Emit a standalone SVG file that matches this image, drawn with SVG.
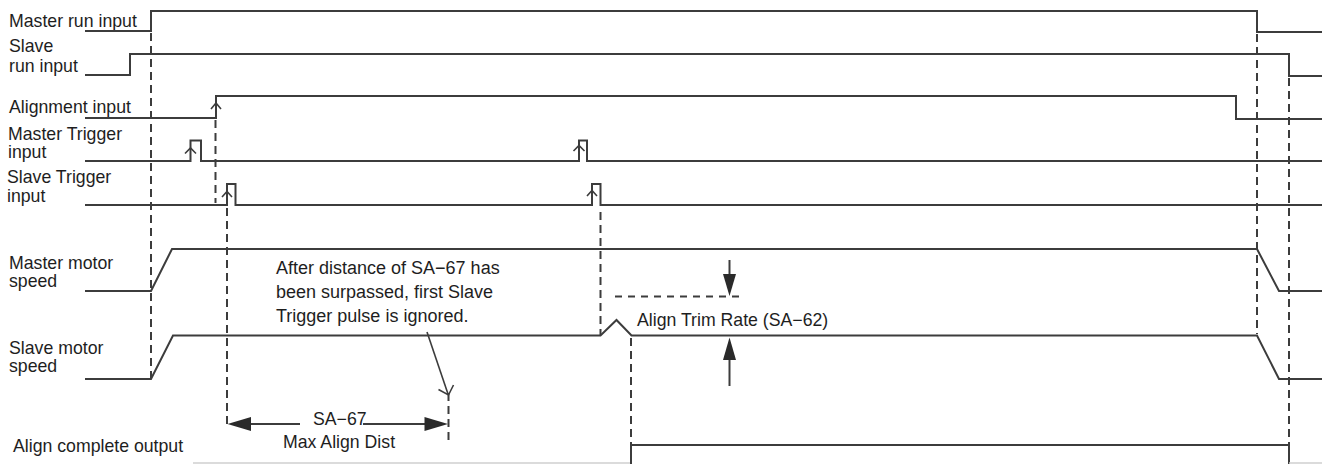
<svg xmlns="http://www.w3.org/2000/svg" width="1330" height="464" viewBox="0 0 1330 464">
<defs>
<style>
.sig{fill:none;stroke:#3c3c3c;stroke-width:2;stroke-linejoin:miter}
.faint{fill:none;stroke:#cfcfcf;stroke-width:1.5}
.dash{fill:none;stroke:#3c3c3c;stroke-width:2;stroke-dasharray:8 5}
.chev{fill:none;stroke:#3c3c3c;stroke-width:1.6}
.lbl{font-family:"Liberation Sans",Arial,sans-serif;font-size:17.7px;fill:#1e1e1e}
.head{fill:#2a2a2a;stroke:none}
</style>
</defs>
<rect width="1330" height="464" fill="#ffffff"/>

<g id="master-run">
<text class="lbl" x="9" y="27">Master run input</text>
<polyline class="sig" points="85,31 151,31 151,11 1257,11 1257,32 1322,32"/>
</g>

<g id="slave-run">
<text class="lbl" x="9" y="52">Slave</text>
<text class="lbl" x="9" y="72">run input</text>
<polyline class="sig" points="85,75 130,75 130,54 1289,54 1289,76 1322,76"/>
</g>

<g id="alignment">
<text class="lbl" x="9" y="113">Alignment input</text>
<polyline class="sig" points="85,118 216,118 216,96 1236,96 1236,119 1322,119"/>
<polyline class="chev" points="211,109 216,103 221,109"/>
</g>

<g id="master-trigger">
<text class="lbl" x="8" y="140">Master Trigger</text>
<text class="lbl" x="8" y="158">input</text>
<polyline class="sig" points="85,161 190.5,161 190.5,140.5 201,140.5 201,161 579,161 579,140.5 587,140.5 587,161 1322,161"/>
<polyline class="chev" points="185,153.5 190.5,148 196,153.5"/>
<polyline class="chev" points="573.5,151 579,145.5 584.5,151"/>
</g>

<g id="slave-trigger">
<text class="lbl" x="7" y="183">Slave Trigger</text>
<text class="lbl" x="7" y="202">input</text>
<polyline class="sig" points="85,205 227,205 227,184 235.5,184 235.5,205 592,205 592,184 600.5,184 600.5,205 1322,205"/>
<polyline class="chev" points="222,197 227,191.5 232,197"/>
<polyline class="chev" points="587,196 592,190.5 597,196"/>
</g>

<g id="master-motor">
<text class="lbl" x="9" y="269">Master motor</text>
<text class="lbl" x="9" y="287">speed</text>
<polyline class="sig" points="85,291 151,291 172,249 1257,249 1279,291 1322,291"/>
</g>

<g id="slave-motor">
<text class="lbl" x="9" y="354">Slave motor</text>
<text class="lbl" x="9" y="372">speed</text>
<polyline class="sig" points="85,379 151,379 173,335.5 600.5,335.5 616.5,320 631.5,335.5 1257,335.5 1279,379 1322,379"/>
</g>

<g id="align-complete">
<text class="lbl" x="13" y="452">Align complete output</text>
<line class="faint" x1="193" y1="463" x2="631" y2="463"/>
<polyline class="sig" points="631,464 631,445 1289,445 1289,464"/>
<line class="faint" x1="1289" y1="463" x2="1322" y2="463"/>
</g>

<g id="connectors">
<line class="dash" x1="151" y1="33" x2="151" y2="378"/>
<line class="dash" x1="215.5" y1="120" x2="215.5" y2="203"/>
<line class="dash" x1="227" y1="208" x2="227" y2="428"/>
<line class="dash" x1="448.5" y1="393" x2="448.5" y2="440"/>
<line class="dash" x1="600.5" y1="212" x2="600.5" y2="335"/>
<line class="dash" x1="631" y1="338" x2="631" y2="445"/>
<line class="dash" x1="1257" y1="34" x2="1257" y2="334"/>
<line class="dash" x1="1289" y1="78" x2="1289" y2="444"/>

<!-- Max align distance -->
<line class="sig" x1="248" y1="424" x2="300" y2="424"/>
<line class="sig" x1="363" y1="424" x2="427" y2="424"/>
<polygon class="head" points="227.5,424 251,417 251,431"/>
<polygon class="head" points="448,424 424.5,417 424.5,431"/>

<!-- annotation arrow -->
<line class="sig" x1="427" y1="332" x2="448" y2="394" style="stroke-width:1.6"/>
<polyline class="chev" points="438.5,389.5 448.5,395 453.5,385" />

<!-- trim rate -->
<line class="dash" x1="615" y1="296.5" x2="745" y2="296.5" style="stroke-dasharray:7 6"/>
<line class="sig" x1="729.5" y1="260" x2="729.5" y2="278"/>
<polygon class="head" points="729.5,296 723,274 736,274"/>
<line class="sig" x1="729.5" y1="356" x2="729.5" y2="386"/>
<polygon class="head" points="729.5,337.5 723,360 736,360"/>
</g>

<g id="labels">
<text class="lbl" x="276" y="274" style="font-size:18px">After distance of SA−67 has</text>
<text class="lbl" x="276" y="298" style="font-size:18px">been surpassed, first Slave</text>
<text class="lbl" x="276" y="322" style="font-size:18px">Trigger pulse is ignored.</text>
<text class="lbl" x="313" y="425">SA−67</text>
<text class="lbl" x="283" y="448">Max Align Dist</text>
<text class="lbl" x="637" y="326">Align Trim Rate (SA−62)</text>
</g>
</svg>
